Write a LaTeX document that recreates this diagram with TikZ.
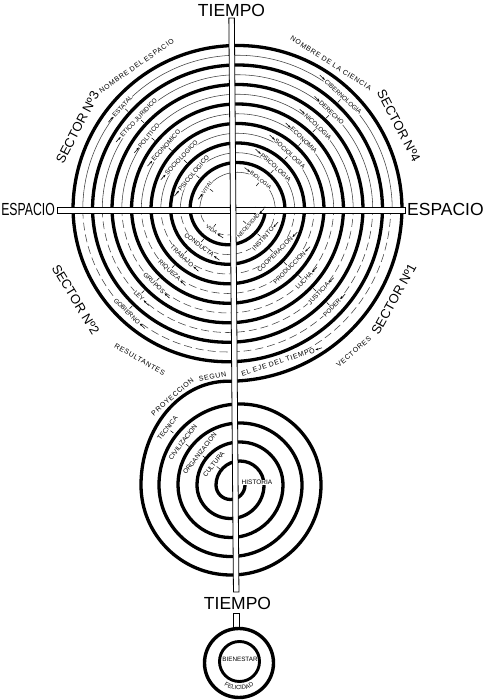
\documentclass[tikz,border=0pt]{standalone}
\usepackage{fontspec}
\setmainfont{Liberation Sans}
\newfontfamily\spacedfont[LetterSpace=10]{Liberation Sans}
\usetikzlibrary{calc,arrows.meta,decorations.text}
\newcommand\ulab[5][]{%
  \node[lab,#1,rotate=#4-90] (#2) at ($(A)+({#4}:#3)$) {#5};
  \draw[tk] ($(#2.south)+({#4+180}:0.6)$) -- ($(#2.south)+({#4+180}:4.5)$);
  \draw[arr] ($(#2.west)+({#4+90}:7)$) -- (#2.west);
}
\newcommand\llab[5][]{%
  \node[lab,#1,rotate=#4+90] (#2) at ($(B)+({#4}:#3)$) {#5};
  \draw[tk] ($(#2.north)+({#4+180}:0.6)$) -- ($(#2.north)+({#4+180}:4.5)$);
  \draw[arr] ($(#2.east)+({#4+90}:7)$) -- (#2.east);
}
\newcommand\slab[4]{%
  \node[lab,font=\fontsize{6.5}{6.5}\selectfont,rotate=#3-90] (#1) at ($(A2)+({#3}:#2)$) {#4};
  \draw[tk] ($(#1.south)+({#3+180}:0.6)$) -- ($(#1.south)+({#3+180}:4.5)$);
}
\begin{document}
\begin{tikzpicture}[x=1pt,y=1pt,
  thickln/.style={line width=3.3pt,line join=round},
  thinup/.style={line width=0.55pt,black!75},
  thinlo/.style={thinup,dash pattern=on 8pt off 4pt},
  lab/.style={font=\fontsize{6.3}{6.3}\selectfont,fill=white,inner sep=0.6pt},
  tinylab/.style={font=\fontsize{5.3}{5.3}\selectfont},
  olab/.style={font=\spacedfont\fontsize{7}{7}\selectfont,inner sep=0.5pt},
  sect/.style={font=\fontsize{13}{13}\selectfont,inner sep=0pt},
  bigt/.style={font=\fontsize{17.5}{17.5}\selectfont,inner sep=0pt},
  tk/.style={line width=0.5pt},
  arr/.style={line width=0.55pt,-{Stealth[length=3pt,width=2.2pt]}},
  bar/.style={fill=white,draw=black,line width=0.8pt},
]
\fill[white] (0,0) rectangle (490,700);
\useasboundingbox (0,0) rectangle (490,700);

\coordinate (A) at (237.5,490);
\coordinate (B) at (227.75,493);
\coordinate (A2) at (240,215);

% ---------- thick spiral (upper), S-curve, lower spiral ----------
\draw[thickln] (265.5,493)
  arc[start angle=0,end angle=-180,radius=37.75] -- ++(0,-3)
  arc[start angle=180,end angle=0,radius=47.5] -- ++(0,3)
  arc[start angle=0,end angle=-180,radius=57.25] -- ++(0,-3)
  arc[start angle=180,end angle=0,radius=67] -- ++(0,3)
  arc[start angle=0,end angle=-180,radius=76.75] -- ++(0,-3)
  arc[start angle=180,end angle=0,radius=86.5] -- ++(0,3)
  arc[start angle=0,end angle=-180,radius=96.25] -- ++(0,-3)
  arc[start angle=180,end angle=0,radius=106] -- ++(0,3)
  arc[start angle=0,end angle=-180,radius=115.75] -- ++(0,-3)
  arc[start angle=180,end angle=0,radius=125.5] -- ++(0,3)
  arc[start angle=0,end angle=-180,radius=135.25] -- ++(0,-3)
  arc[start angle=180,end angle=0,radius=145] -- ++(0,3)
  arc[start angle=0,end angle=-180,radius=154.75] -- ++(0,-3)
  arc[start angle=180,end angle=0,radius=164.5] -- ++(0,3)
  arc[start angle=0,end angle=-90,radius=174.25]
  .. controls (179.75,318.75) and (141,272) .. (141,215)
     node[olab,pos=0.1,sloped,above=1.5pt] (segun) {SEGUN}
     node[olab,pos=0.4,sloped,above=1.5pt] (proy) {PROYECCION}
  arc[start angle=180,end angle=360,radius=90]
  arc[start angle=0,end angle=180,radius=81]
  arc[start angle=180,end angle=360,radius=71.5]
  arc[start angle=0,end angle=180,radius=62]
  arc[start angle=180,end angle=360,radius=52.5]
  arc[start angle=0,end angle=180,radius=43]
  arc[start angle=180,end angle=360,radius=33.5]
  arc[start angle=0,end angle=180,radius=24]
  arc[start angle=180,end angle=360,radius=14.5];

% ---------- thin guide spiral ----------
\foreach \r in {37.75,57.25,76.75,96.25,115.75,135.25,154.75}
  \draw[thinup] ($(A)+(180:\r)$) arc[start angle=180,end angle=0,radius=\r];
\foreach \r in {28,47.5,67,86.5,106,125.5,145}
  \draw[thinlo] ($(B)+(0:\r)$) arc[start angle=0,end angle=-180,radius=\r];
\draw[thinlo] ($(B)+(0:163)$) arc[start angle=0,end angle=-75,radius=163];

% ---------- axes ----------
\draw[bar] (57,487) rectangle (405,493);
\draw[bar] (228.85,682) -- (234.35,682) -- (238.95,108) -- (233.45,108) -- cycle;
\fill[white] (230.9,487.45) rectangle (235.4,492.55);

\node[bigt,anchor=base] (tiempo1) at (231.5,683.5) {TIEMPO};
\node[bigt,anchor=base] (tiempo2) at (237.5,90) {TIEMPO};
\node[bigt,anchor=base west] (espacio1) at (407,484) {ESPACIO};
\node[bigt,anchor=base east,xscale=0.7] (espacio2) at (55,484) {ESPACIO};

% ---------- sector labels ----------
\node[sect,rotate=62.7] (s3) at ($(A)+(152.7:180)$) {SECTOR Nº3};
\node[sect,rotate=-62.4] (s4) at ($(A)+(27.6:182)$) {SECTOR Nº4};
\node[sect,rotate=-58.7] (s2) at ($(B)+(-148.7:178)$) {SECTOR Nº2};
\node[sect,rotate=61] (s1) at ($(B)+(-29:190)$) {SECTOR Nº1};

\node[olab,rotate=35] (nesp) at ($(A)+(125:176)$) {NOMBRE DEL ESPACIO};
\node[olab,rotate=-32.5] (ncie) at ($(A)+(57.5:174)$) {NOMBRE DE LA CIENCIA};
\node[olab,rotate=-30] (result) at ($(B)+(-120:176)$) {RESULTANTES};
\node[olab,rotate=41] (vect) at ($(B)+(-49:192)$) {VECTORES};
\node[olab,fill=white,rotate=18] (eje) at ($(B)+(-72:163)$) {EL EJE DEL TIEMPO};
\draw[arr] ($(eje.east)+(18:7)$) -- (eje.east);

% ---------- upper-left ----------
\ulab{estatal}{154.75}{138}{ESTATAL}
\ulab{etico}{135.25}{137}{ETICO JURIDICO}
\ulab{politico}{115.75}{140}{POLITICO}
\ulab{economico}{96.25}{138}{ECONOMICO}
\ulab{sociologico}{76.75}{137}{SOCIOLOGICO}
\ulab{psicologico}{57.25}{140}{PSICOLOGICO}
\ulab[tinylab]{vital}{37.75}{143}{VITAL}
% ---------- upper-right ----------
\ulab{ciber}{154.75}{47}{CIBERNOLOGIA}
\ulab{derecho}{135.25}{46}{DERECHO}
\ulab{nicologia}{115.75}{46}{NICOLOGIA}
\ulab{economia}{96.25}{46.5}{ECONOMIA}
\ulab{sociologia}{76.75}{47}{SOCIOLOGIA}
\ulab{psicologia}{57.25}{48}{PSICOLOGIA}
\ulab[tinylab]{biologia}{37.75}{52}{BIOLOGIA}
% ---------- lower-left ----------
\llab[tinylab]{vida}{28}{-125}{VIDA}
\llab{conducta}{47.5}{-127}{CONDUCTA}
\llab{trabajo}{67}{-133}{TRABAJO}
\llab{riqueza}{86.5}{-132.5}{RIQUEZA}
\llab{grupos}{106}{-134}{GRUPOS}
\llab{ley}{125.5}{-135}{LEY}
\llab{gobierno}{145}{-134}{GOBIERNO}
% ---------- lower-right ----------
\llab[tinylab]{necesidad}{28}{-42}{NECESIDAD}
\llab{instinto}{47.5}{-42}{INSTINTO}
\llab{cooperacion}{67}{-45}{COOPERACION}
\llab{produccion}{86.5}{-44.5}{PRODUCCION}
\llab{lucha}{106}{-44}{LUCHA}
\llab{justicia}{125.5}{-43.6}{JUSTICIA}
\llab{poder}{145}{-44}{PODER}

% ---------- lower spiral ----------
\slab{tecnica}{92}{142}{TECNICA}
\slab{civil}{71.5}{143}{CIVILIZACION}
\slab{organiz}{51}{142}{ORGANIZACION}
\slab{cultura}{33.5}{141.5}{CULTURA}
\node[lab,font=\fontsize{6.5}{6.5}\selectfont] (historia) at (257,217.5) {HISTORIA};

% ---------- bottom circles ----------
\draw[bar] (233.5,71) rectangle (239,87);
\draw[line width=3.4pt] (239,37) circle[radius=34.5];
\draw[line width=2.9pt] (239.5,38.5) circle[radius=20];
\node[font=\fontsize{6.3}{6.3}\selectfont,inner sep=0pt] (bienestar) at (240,40.5) {BIENESTAR};
\path[decorate,decoration={text along path,text align=center,
  text={|\fontsize{6}{6}\selectfont|FELICIDAD}}]
  ($(239,37)+(215:27)$) arc[start angle=215,end angle=325,radius=27];
\end{tikzpicture}
\end{document}
